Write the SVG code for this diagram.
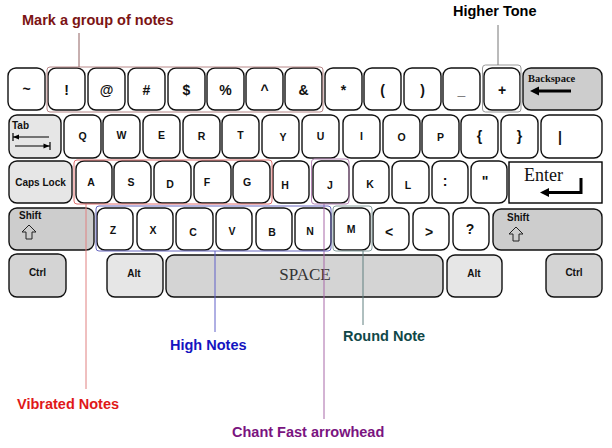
<svg xmlns="http://www.w3.org/2000/svg" width="612" height="448" viewBox="0 0 612 448">
<style>
.k{fill:#fff;stroke:#111;stroke-width:1.4}
.g1{fill:#e6e6e6;stroke:#111;stroke-width:1.4}
.g2{fill:#cdcdcd;stroke:#111;stroke-width:1.4}
.g3{fill:#d4d4d4;stroke:#111;stroke-width:1.4}
text{font-family:"Liberation Sans",Arial,sans-serif;font-weight:bold;fill:#111}
.s{font-size:14px;text-anchor:middle}
.l{font-size:10.5px;text-anchor:middle}
.m{font-size:10px}
.lab{font-size:14.5px}
.grp{fill:none;stroke-width:1}
</style>
<rect width="612" height="448" fill="#fff"/>

<!-- Row 1 -->
<g id="row1">
<g id="k-tilde"><rect class="k" x="8" y="68" width="37" height="42" rx="8"/><text class="s" x="26.5" y="94">~</text></g>
<g id="k-excl"><rect class="k" x="48" y="68" width="37" height="42" rx="8"/><text class="s" x="66.5" y="95">!</text></g>
<g id="k-at"><rect class="k" x="88" y="68" width="37" height="42" rx="8"/><text class="s" x="106.5" y="95">@</text></g>
<g id="k-hash"><rect class="k" x="128" y="68" width="37" height="42" rx="8"/><text class="s" x="146.5" y="95">#</text></g>
<g id="k-dollar"><rect class="k" x="168" y="68" width="37" height="42" rx="8"/><text class="s" x="186.5" y="95">$</text></g>
<g id="k-pct"><rect class="k" x="207" y="68" width="37" height="42" rx="8"/><text class="s" x="225.5" y="95">%</text></g>
<g id="k-caret"><rect class="k" x="246" y="68" width="37" height="42" rx="8"/><text class="s" x="264.5" y="95">^</text></g>
<g id="k-amp"><rect class="k" x="285" y="68" width="37" height="42" rx="8"/><text class="s" x="303.5" y="95">&amp;</text></g>
<g id="k-star"><rect class="k" x="325" y="68" width="37" height="42" rx="8"/><text class="s" x="343.5" y="95">*</text></g>
<g id="k-lpar"><rect class="k" x="364" y="68" width="37" height="42" rx="8"/><text class="s" x="382.5" y="95">(</text></g>
<g id="k-rpar"><rect class="k" x="404" y="68" width="37" height="42" rx="8"/><text class="s" x="422.5" y="95">)</text></g>
<g id="k-under"><rect class="k" x="443" y="68" width="37" height="42" rx="8"/><text class="s" x="461.5" y="95">_</text></g>
<g id="k-plus"><rect class="k" x="484" y="68" width="36" height="42" rx="8"/><text class="s" x="502" y="95">+</text></g>
<g id="k-back"><rect class="g2" x="523" y="68" width="79" height="42" rx="8"/><text x="528" y="82" style="font-family:'Liberation Serif','Times New Roman',serif;font-size:10.5px">Backspace</text><line x1="537" y1="91" x2="571" y2="91" stroke="#000" stroke-width="3"/><path d="M530,91 L539,86.5 L539,95.5 Z" fill="#000"/></g>
</g>

<!-- Row 2 -->
<g id="row2">
<g id="k-tab"><rect class="g1" x="9" y="115" width="52" height="43" rx="8"/><text class="m" x="12" y="129">Tab</text>
<line x1="13" y1="137" x2="49" y2="137" stroke="#000" stroke-width="1"/><line x1="13" y1="133" x2="13" y2="141" stroke="#000" stroke-width="1.2"/><path d="M13,137 L19,134.5 L19,139.5 Z" fill="#000"/>
<line x1="15" y1="146" x2="50" y2="146" stroke="#000" stroke-width="1"/><line x1="50" y1="142" x2="50" y2="150" stroke="#000" stroke-width="1.2"/><path d="M49.5,146 L43.5,143.5 L43.5,148.5 Z" fill="#000"/></g>
<g id="k-q"><rect class="k" x="64" y="115" width="37" height="43" rx="8"/><text class="l" x="82.5" y="140">Q</text></g>
<g id="k-w"><rect class="k" x="103" y="115" width="37" height="43" rx="8"/><text class="l" x="121.5" y="139">W</text></g>
<g id="k-e"><rect class="k" x="143" y="115" width="37" height="43" rx="8"/><text class="l" x="161.5" y="139">E</text></g>
<g id="k-r"><rect class="k" x="183" y="115" width="37" height="43" rx="8"/><text class="l" x="201.5" y="140">R</text></g>
<g id="k-t"><rect class="k" x="222" y="115" width="37" height="43" rx="8"/><text class="l" x="240.5" y="139">T</text></g>
<g id="k-y"><rect class="k" x="262" y="115" width="37" height="43" rx="8"/><text class="l" x="283" y="141">Y</text></g>
<g id="k-u"><rect class="k" x="302" y="115" width="37" height="43" rx="8"/><text class="l" x="320.5" y="140">U</text></g>
<g id="k-i"><rect class="k" x="343" y="115" width="37" height="43" rx="8"/><text class="l" x="361.5" y="140">I</text></g>
<g id="k-o"><rect class="k" x="383" y="115" width="37" height="43" rx="8"/><text class="l" x="401.5" y="141">O</text></g>
<g id="k-p"><rect class="k" x="422" y="115" width="37" height="43" rx="8"/><text class="l" x="440.5" y="141">P</text></g>
<g id="k-lbr"><rect class="k" x="461" y="115" width="37" height="43" rx="8"/><text class="s" x="479.5" y="141">{</text></g>
<g id="k-rbr"><rect class="k" x="501" y="115" width="37" height="43" rx="8"/><text class="s" x="519.5" y="141">}</text></g>
<g id="k-pipe"><rect class="k" x="541" y="115" width="61" height="43" rx="8"/><text class="s" x="560" y="142">|</text></g>
</g>

<!-- Row 3 -->
<g id="row3">
<g id="k-caps"><rect class="g1" x="9" y="161" width="63" height="42" rx="8"/><text class="m" x="40.5" y="186" style="text-anchor:middle">Caps Lock</text></g>
<g id="k-a"><rect class="k" x="76" y="161" width="36" height="42" rx="8"/><text class="l" x="91" y="186">A</text></g>
<g id="k-s"><rect class="k" x="114" y="161" width="37" height="42" rx="8"/><text class="l" x="131" y="186">S</text></g>
<g id="k-d"><rect class="k" x="154" y="161" width="37" height="42" rx="8"/><text class="l" x="170" y="188">D</text></g>
<g id="k-f"><rect class="k" x="194" y="161" width="37" height="42" rx="8"/><text class="l" x="207" y="186">F</text></g>
<g id="k-g"><rect class="k" x="233" y="161" width="37" height="42" rx="8"/><text class="l" x="247" y="186">G</text></g>
<g id="k-h"><rect class="k" x="273" y="161" width="36" height="42" rx="8"/><text class="l" x="285" y="189">H</text></g>
<g id="k-j"><rect class="k" x="313" y="161" width="36" height="42" rx="8"/><text class="l" x="330" y="189">J</text></g>
<g id="k-k"><rect class="k" x="353" y="161" width="36" height="42" rx="8"/><text class="l" x="370" y="188">K</text></g>
<g id="k-l"><rect class="k" x="392" y="161" width="37" height="42" rx="8"/><text class="l" x="408" y="189">L</text></g>
<g id="k-colon"><rect class="k" x="432" y="161" width="36" height="42" rx="8"/><text class="s" x="445" y="186">:</text></g>
<g id="k-quote"><rect class="k" x="471" y="161" width="36" height="42" rx="8"/><text class="s" x="485" y="186">"</text></g>
<g id="k-enter"><rect x="509" y="162" width="93" height="41" fill="#fff" stroke="#000" stroke-width="1.4"/><text x="524" y="181" style="font-family:'Liberation Serif','Times New Roman',serif;font-weight:normal;font-size:18px">Enter</text><path d="M581,178 L581,192.5 L548,192.5" fill="none" stroke="#000" stroke-width="3"/><path d="M540,192.5 L549,188 L549,197 Z" fill="#000"/></g>
</g>

<!-- Row 4 -->
<g id="row4">
<g id="k-lshift"><rect class="g2" x="9" y="208" width="85" height="42" rx="8"/><text class="m" x="19" y="219">Shift</text><path d="M29,225 L22,232 L26,232 L26,239 L32,239 L32,232 L36,232 Z" fill="none" stroke="#222" stroke-width="1"/></g>
<g id="k-z"><rect class="k" x="97" y="208" width="36" height="42" rx="8"/><text class="l" x="113" y="234">Z</text></g>
<g id="k-x"><rect class="k" x="137" y="208" width="36" height="42" rx="8"/><text class="l" x="153" y="234">X</text></g>
<g id="k-c"><rect class="k" x="176" y="208" width="37" height="42" rx="8"/><text class="l" x="193" y="236">C</text></g>
<g id="k-v"><rect class="k" x="216" y="208" width="36" height="42" rx="8"/><text class="l" x="232" y="235">V</text></g>
<g id="k-b"><rect class="k" x="256" y="208" width="36" height="42" rx="8"/><text class="l" x="272" y="236">B</text></g>
<g id="k-n"><rect class="k" x="295" y="208" width="36" height="42" rx="8"/><text class="l" x="310" y="235">N</text></g>
<g id="k-m"><rect class="k" x="334" y="208" width="36" height="42" rx="8"/><text class="l" x="351" y="233">M</text></g>
<g id="k-lt"><rect class="k" x="373" y="208" width="36" height="42" rx="8"/><text class="s" x="389" y="237">&lt;</text></g>
<g id="k-gt"><rect class="k" x="413" y="208" width="36" height="42" rx="8"/><text class="s" x="429" y="237">&gt;</text></g>
<g id="k-q2"><rect class="k" x="453" y="208" width="36" height="42" rx="8"/><text class="s" x="470" y="234">?</text></g>
<g id="k-rshift"><rect class="g2" x="493" y="209" width="109" height="41" rx="8"/><text class="m" x="507" y="221">Shift</text><path d="M516,227 L509,234 L513,234 L513,241 L519,241 L519,234 L523,234 Z" fill="none" stroke="#222" stroke-width="1"/></g>
</g>

<!-- Row 5 -->
<g id="row5">
<g id="k-lctrl"><rect class="g3" x="9" y="254" width="57" height="43" rx="8"/><text class="m" x="37.5" y="276" style="text-anchor:middle">Ctrl</text></g>
<g id="k-lalt"><rect class="g1" x="107" y="254" width="56" height="43" rx="8"/><text class="m" x="134" y="277" style="text-anchor:middle">Alt</text></g>
<g id="k-space"><rect class="g3" x="166" y="255" width="277" height="42" rx="8"/><text x="305" y="280" style="font-family:'Liberation Serif','Times New Roman',serif;font-weight:normal;font-size:17px;fill:#333;text-anchor:middle">SPACE</text></g>
<g id="k-ralt"><rect class="g1" x="447" y="255" width="55" height="42" rx="8"/><text class="m" x="474" y="277" style="text-anchor:middle">Alt</text></g>
<g id="k-rctrl"><rect class="g3" x="546" y="254" width="56" height="43" rx="8"/><text class="m" x="574" y="276" style="text-anchor:middle">Ctrl</text></g>
</g>

<!-- Groupings and callouts -->
<g id="connectors">
<rect class="grp" x="47" y="67" width="276" height="45" rx="3" stroke="#b88888"/>
<line x1="79" y1="33" x2="79" y2="67" stroke="#906060"/>
<rect class="grp" x="482.5" y="65" width="38.5" height="47" rx="3" stroke="#999"/>
<line x1="498" y1="25" x2="498" y2="65" stroke="#777"/>
<rect class="grp" x="74" y="160" width="198" height="44" rx="3" stroke="#e07070"/>
<line x1="86" y1="204" x2="86" y2="389" stroke="#e08080"/>
<rect class="grp" x="311.5" y="159" width="37.5" height="45" rx="3" stroke="#b888b8"/>
<line x1="324" y1="204" x2="324" y2="419" stroke="#a868a8"/>
<rect class="grp" x="96" y="206" width="235" height="45" rx="3" stroke="#6868c0"/>
<line x1="215" y1="251" x2="215" y2="332" stroke="#6060c8"/>
<rect class="grp" x="333" y="206" width="39" height="45" rx="3" stroke="#88a0a0"/>
<line x1="363" y1="251" x2="363" y2="325" stroke="#608080"/>
</g>

<g id="labels">
<text class="lab" x="22" y="25" style="fill:#7b1414">Mark a group of notes</text>
<text class="lab" x="453" y="16" style="fill:#000">Higher Tone</text>
<text class="lab" x="17" y="409" style="fill:#e01818">Vibrated Notes</text>
<text class="lab" x="170" y="350" style="fill:#1414c0">High Notes</text>
<text class="lab" x="343" y="341" style="fill:#104848">Round Note</text>
<text class="lab" x="232" y="437" style="fill:#7a1480">Chant Fast arrowhead</text>
</g>
</svg>
